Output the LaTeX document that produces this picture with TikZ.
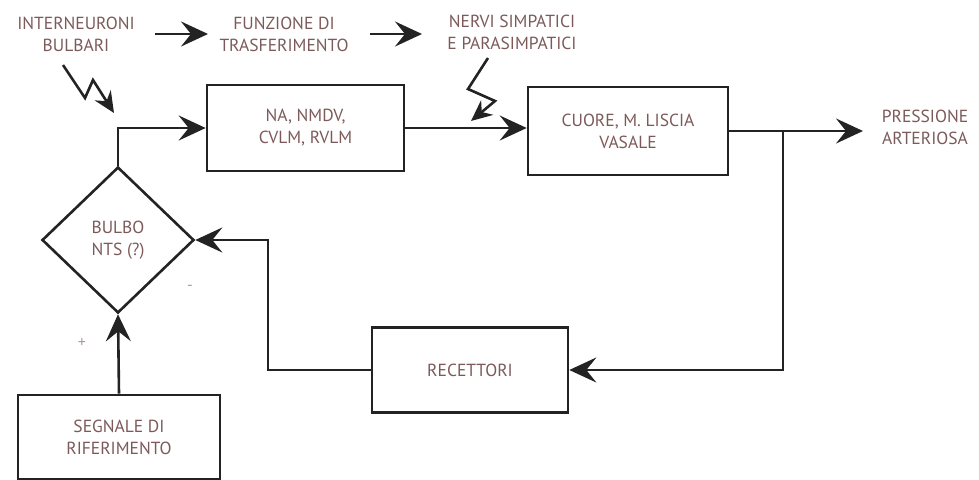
\documentclass[tikz,border=0pt]{standalone}
\usepackage{fontspec}
\setmainfont{PT Sans}
\usetikzlibrary{arrows.meta,shapes.geometric}
\definecolor{txt}{RGB}{125,90,90}
\definecolor{ln}{RGB}{35,35,35}
\tikzset{
  lbl/.style={text=txt,font=\fontsize{17.5}{22}\selectfont,align=center,inner sep=0pt},
  blk/.style={draw=ln,line width=2.6pt,minimum width=#1,text=txt,font=\fontsize{17.5}{22}\selectfont,align=center},
  arr/.style={draw=ln,line width=2.6pt,-{Stealth[length=27pt,width=25pt,inset=10pt]}},
  zig/.style={draw=ln,line width=2.6pt,line join=miter,-{Stealth[length=21pt,width=19pt,inset=7pt]}},
  sgn/.style={text=txt!60,font=\fontsize{16}{16}\selectfont,inner sep=0pt}
}
\begin{document}
\begin{tikzpicture}[x=1pt,y=-1pt]
\useasboundingbox (0,0) rectangle (979,479);
% top labels
\node[lbl] (int) at (76,34) {INTERNEURONI\\BULBARI};
\node[lbl] (fun) at (284,34) {FUNZIONE DI\\TRASFERIMENTO};
\node[lbl] (ner) at (512,32) {NERVI SIMPATICI\\E PARASIMPATICI};
\node[lbl] (pre) at (925,127) {PRESSIONE\\ARTERIOSA};
% blocks
\node[blk=197pt,minimum height=86pt] (na) at (305.5,128) {NA, NMDV,\\CVLM, RVLM};
\node[blk=200pt,minimum height=88pt] (cuore) at (628,131) {CUORE, M. LISCIA\\VASALE};
\node[blk=196pt,minimum height=85pt] (rec) at (470,370) {RECETTORI};
\node[blk=202pt,minimum height=84pt] (seg) at (119,437) {SEGNALE DI\\RIFERIMENTO};
\node[draw=ln,line width=2.6pt,diamond,minimum width=152pt,minimum height=146pt,inner sep=0pt,
      text=txt,font=\fontsize{17.5}{22}\selectfont,align=center] (dia) at (118,240) {BULBO\\NTS (?)};
% top arrows
\coordinate (a1s) at (155,34);
\coordinate (a1e) at (208,34);
\coordinate (a2s) at (370,34);
\coordinate (a2e) at (422,34);
\draw[arr] (a1s) -- (a1e);
\draw[arr] (a2s) -- (a2e);
% main path
\draw[arr] (dia.north) |- (na.west);
\draw[arr] (na.east) -- (na.east -| cuore.west);
\coordinate (out) at (863,131);
\coordinate (br) at (783,131);
\draw[arr] (cuore.east) -- (out);
\draw[arr] (br) |- (rec.east);
\coordinate (fb) at (268,240);
\draw[arr] (rec.west) -| (fb) -- (dia.east);
\draw[arr] (seg.north) -- (dia.south);
% lightning arrows
\coordinate (z1a) at (63,65);
\coordinate (z1b) at (85,98);
\coordinate (z1c) at (93,80);
\coordinate (z1d) at (114,113);
\draw[zig] (z1a) -- (z1b) -- (z1c) -- (z1d);
\coordinate (z2a) at (488,58);
\coordinate (z2b) at (468,89);
\coordinate (z2c) at (495,101);
\coordinate (z2d) at (471,121);
\draw[zig] (z2a) -- (z2b) -- (z2c) -- (z2d);
% signs
\node[sgn] (minus) at (190,288) {-};
\node[sgn] (plus) at (82,343) {+};
\end{tikzpicture}
\end{document}
